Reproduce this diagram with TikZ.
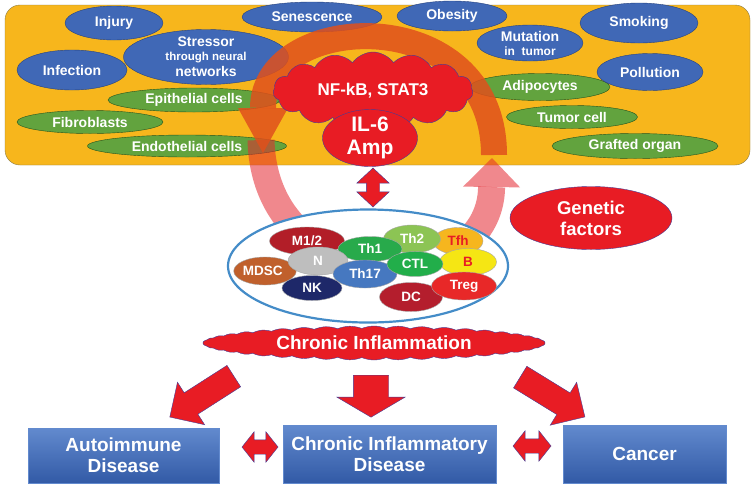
\documentclass[tikz,border=0pt]{standalone}
\usepackage{fontspec}
\setmainfont{Liberation Sans}
\usetikzlibrary{shapes.geometric,shapes.symbols,shapes.arrows,arrows.meta,calc}

\definecolor{boxorange}{RGB}{247,182,28}
\definecolor{boxrim}{RGB}{140,125,70}
\definecolor{causeblue}{RGB}{64,104,182}
\definecolor{causerim}{RGB}{38,66,128}
\definecolor{srcgreen}{RGB}{98,163,62}
\definecolor{srcrim}{RGB}{36,84,30}
\definecolor{ampred}{RGB}{232,28,36}
\definecolor{rimblue}{RGB}{70,60,150}
\definecolor{loopred}{RGB}{228,40,48}
\definecolor{looporange}{RGB}{224,80,28}
\definecolor{ringblue}{RGB}{68,140,200}
\definecolor{dzlight}{RGB}{98,138,206}
\definecolor{dzdark}{RGB}{50,90,166}
%cell colours
\definecolor{cm}{RGB}{178,30,40}
\definecolor{cmdsc}{RGB}{192,96,44}
\definecolor{ctfh}{RGB}{246,182,30}
\definecolor{cthtwo}{RGB}{140,196,84}
\definecolor{cthone}{RGB}{40,170,75}
\definecolor{cn}{RGB}{190,190,190}
\definecolor{cthseventeen}{RGB}{70,120,192}
\definecolor{cnk}{RGB}{30,40,105}
\definecolor{cb}{RGB}{245,230,20}
\definecolor{cctl}{RGB}{34,174,74}
\definecolor{cdc}{RGB}{180,30,45}
\definecolor{ctreg}{RGB}{232,40,40}

\tikzset{
	cause/.style={ellipse, draw=causerim, fill=causeblue, text=white, inner sep=0pt, align=center, font=\fontsize{14}{16}\selectfont\bfseries},
	srccell/.style={ellipse, draw=srcrim, fill=srcgreen, text=white, inner sep=0pt, font=\fontsize{14}{16}\selectfont\bfseries},
	cell/.style={ellipse, draw=black!35, fill=#1, text=white, inner sep=0pt, font=\fontsize{13.5}{15}\selectfont\bfseries},
	redblob/.style={fill=ampred, draw=rimblue, text=white, align=center},
	disease/.style={rectangle, draw=dzlight, top color=dzlight, bottom color=dzdark, text=white, align=center, font=\fontsize{19}{21}\selectfont\bfseries},
	blockarrow/.style={single arrow, draw=rimblue, fill=ampred, inner xsep=0pt, inner ysep=#1},
	twoway/.style={double arrow, draw=rimblue, fill=ampred, inner xsep=0pt, inner ysep=#1},
}

\begin{document}
\begin{tikzpicture}[x=1pt, y=-1pt]
		\useasboundingbox (0,0) rectangle (754,488);
		\fill[white] (0,0) rectangle (754,488);
		\node[rectangle, rounded corners=15pt, draw=boxrim, fill=boxorange, minimum width=745, minimum height=160] (env) at (377.5,85) {};
		%sources
		\node[srccell, minimum width=172, minimum height=24] (epith) at (194,100) {Epithelial cells};
		\node[srccell, minimum width=146, minimum height=23] (fibro) at (90,122) {Fibroblasts};
		\node[srccell, minimum width=199, minimum height=22] (endoth) at (187,146) {Endothelial cells};
		\node[srccell, minimum width=140, minimum height=27] (adipo) at (540,87) {Adipocytes};
		\node[srccell, minimum width=131, minimum height=23] (tumor) at (572,117) {Tumor cell};
		\node[srccell, minimum width=166, minimum height=25] (grafted) at (635,146) {Grafted organ};
		%causes
		\node[cause, minimum width=98, minimum height=34] (injury) at (114,23) {Injury};
		\node[cause, minimum width=110, minimum height=40] (infect) at (72,70) {Infection};
		\node[cause, minimum width=140, minimum height=30] (senesc) at (312,17) {Senescence};
		\node[cause, minimum width=165, minimum height=55, inner ysep=-5pt] (stress) at (206,57)
			{\fontsize{14}{16}\selectfont Stressor\\[-2pt]\fontsize{11.5}{13}\selectfont through neural\\networks};
		\node[cause, minimum width=110, minimum height=30] (obesity) at (452,16) {Obesity};
		\node[cause, minimum width=106, minimum height=36, inner ysep=-4pt] (mutation) at (530,43)
			{Mutation\\[-2pt]\fontsize{12}{13}\selectfont in~ tumor};
		\node[cause, minimum width=118, minimum height=40] (smoking) at (639,23) {Smoking};
		\node[cause, minimum width=106, minimum height=37] (pollution) at (650,72) {Pollution};
		%loop
		\coordinate (pinkA) at (261,140);
		\coordinate (pinkB) at (492,158);
		\coordinate (orgA) at (494,155);
		\coordinate (orgB) at (263,108);
		\coordinate (orgTip) at (263,153);
		\draw[loopred, opacity=0.55, line width=27pt, -{Triangle[width=57pt,length=29pt,line width=0pt]}]
			(pinkA) .. controls (265,300) and (490,300) .. (pinkB);
		\draw[looporange, opacity=0.85, line width=26pt]
			(orgA) .. controls (494,0) and (263,10) .. (orgB);
		\fill[looporange, opacity=0.85] ($(orgB)+(-25,0)$) -- ($(orgB)+(25,0)$) -- (orgTip) -- cycle;
		\node[redblob, cloud, cloud puffs=15, cloud puff arc=110, aspect=2.6, minimum width=200, minimum height=78, inner sep=0pt,
			font=\fontsize{17}{19}\selectfont\bfseries] (nfkb) at (373,91) {NF-kB, STAT3};
		\node[redblob, ellipse, minimum width=95, minimum height=57, inner sep=0pt, inner ysep=-3pt,
			font=\fontsize{21}{23}\selectfont\bfseries] (amp) at (370,138) {IL-6\\Amp};
		\node[twoway=6.5pt, rotate=90, minimum height=39, double arrow head extend=9.5,
			double arrow tip angle=94] (link) at (373,187.5) {};
		%immune cells
		\node[ellipse, draw=ringblue, line width=2.2pt, fill=white, minimum width=280, minimum height=113] (immune) at (368,266) {};
		\node[cell=cm, minimum width=75, minimum height=28] (m12) at (307,241) {M1/2};
		\node[cell=cmdsc, minimum width=62, minimum height=28] (mdsc) at (265,271) {MDSC\,\,};
		\node[cell=ctfh, text=ampred, minimum width=50, minimum height=27] (tfh) at (458,241) {Tfh};
		\node[cell=cthtwo, minimum width=57, minimum height=28] (th2) at (412,239) {Th2};
		\node[cell=cthone, minimum width=64, minimum height=25] (th1) at (370,249) {Th1};
		\node[cell=cn, minimum width=60, minimum height=28] (nn) at (318,261) {N};
		\node[cell=cthseventeen, minimum width=64, minimum height=28] (th17) at (365,274) {Th17};
		\node[cell=cnk, minimum width=60, minimum height=25] (nk) at (312,288) {NK};
		\node[cell=cb, text=ampred, minimum width=57, minimum height=27] (bb) at (468,262) {B};
		\node[cell=cctl, minimum width=56, minimum height=25] (ctl) at (415,264) {CTL};
		\node[cell=cdc, minimum width=63, minimum height=29] (dc) at (411,297) {DC};
		\node[cell=ctreg, minimum width=65, minimum height=28] (treg) at (464,286) {Treg};
		\node[redblob, ellipse, minimum width=162, minimum height=63, inner sep=0pt,
			font=\fontsize{18.5}{21}\selectfont\bfseries] (genes) at (591,218) {Genetic\\factors};
		%outcome
		\node[redblob, cloud, cloud puffs=44, cloud puff arc=45, aspect=10, minimum width=342, minimum height=34, inner sep=0pt,
			font=\fontsize{19}{21}\selectfont\bfseries] (chronic) at (374,343) {Chronic Inflammation};
		\node[blockarrow=12.5pt, rotate=212.6, minimum height=76, single arrow head extend=12.5, anchor=tail] (toauto) at (234,376) {};
		\node[blockarrow=17.5pt, rotate=-90, minimum height=42, single arrow head extend=16.5, single arrow tip angle=119, anchor=tail] (tomid) at (371,375) {};
		\node[blockarrow=12.5pt, rotate=-31.6, minimum height=76, single arrow head extend=12.5, anchor=tail] (tocancer) at (520,377) {};
		\node[disease, minimum width=191, minimum height=55] (auto) at (123.5,455.5) {Autoimmune\\Disease};
		\node[disease, minimum width=213, minimum height=58] (cid) at (389.5,454) {Chronic Inflammatory\\Disease};
		\node[disease, minimum width=163, minimum height=58] (cancer) at (644.5,454) {Cancer};
		\node[twoway=7pt, minimum height=36, double arrow head extend=8, double arrow tip angle=103] (lr1) at (260,447) {};
		\node[twoway=7pt, minimum height=38, double arrow head extend=8, double arrow tip angle=103] (lr2) at (532,446) {};
\end{tikzpicture}
\end{document}
